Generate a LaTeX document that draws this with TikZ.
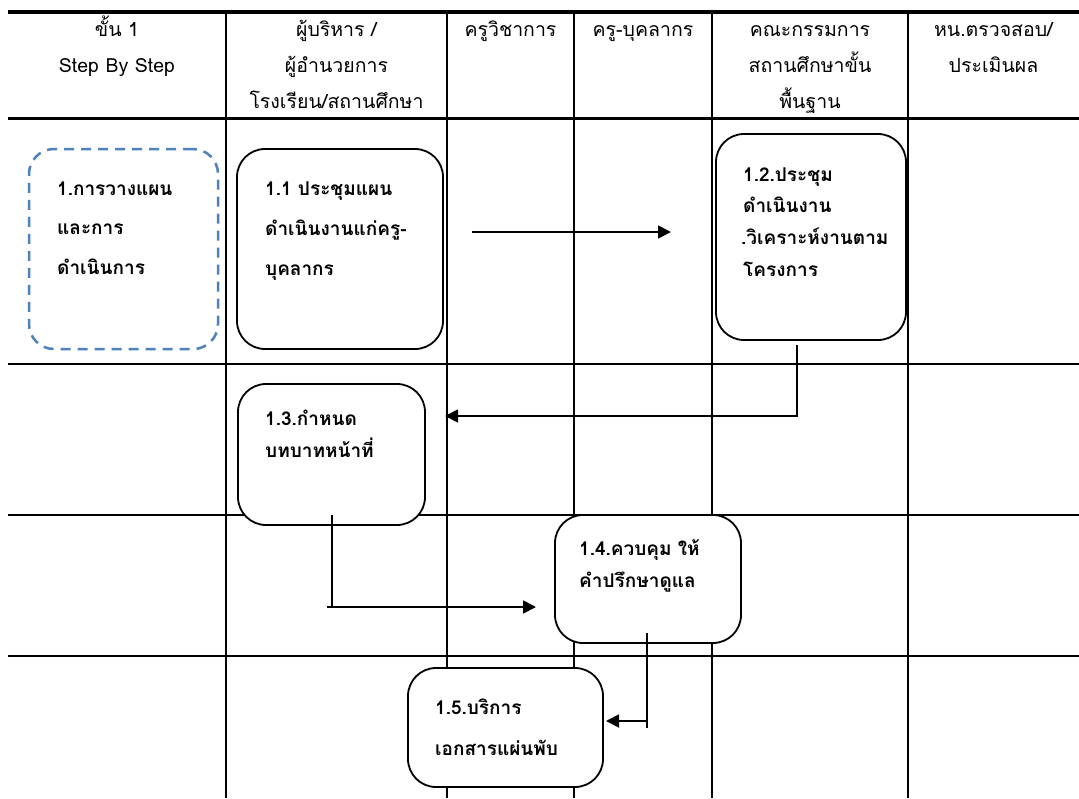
\documentclass[tikz,border=0pt]{standalone}
\usepackage{fontspec}
\setmainfont[Script=Thai]{Loma}
\usetikzlibrary{arrows.meta}
\definecolor{dashblue}{RGB}{79,129,189}
\begin{document}
\begin{tikzpicture}[x=1pt,y=-1pt,
  gridline/.style={line width=2.5pt, black},
  topline/.style={line width=4pt, black},
  midline/.style={line width=3pt, black},
  hdrtext/.style={font=\fontsize{19.5pt}{22pt}\selectfont, anchor=base, inner sep=0pt},
  boxtext/.style={font=\fontsize{19pt}{22pt}\selectfont\bfseries, anchor=base west, inner sep=0pt},
  stepbox/.style={draw, line width=1.8pt, rounded corners=28pt, inner sep=0pt, fill=white},
  dashbox/.style={draw=dashblue, line width=2.5pt, rounded corners=25pt, dash pattern=on 10pt off 7pt, inner sep=0pt},
  conn/.style={line width=1.8pt},
  arr/.style={line width=1.8pt, -{Triangle[length=13pt,width=13pt]}}
]
\useasboundingbox (0,0) rectangle (1079,798);
\fill[white] (0,0) rectangle (1079,798);

% grid
\draw[gridline] (8,364) -- (1079,364);
\draw[gridline] (8,515) -- (1079,515);
\draw[gridline] (8,656) -- (1079,656);
\foreach \xx in {226,447,574,712,908} {\draw[gridline] (\xx,12) -- (\xx,798);}
\draw[midline] (8,118) -- (1079,118);
\draw[topline] (8,12) -- (1079,12);

% headers
\node[hdrtext] (h1a) at (117,36) {ขั้น 1};
\node[hdrtext] (h1b) at (117,72) {Step By Step};
\node[hdrtext] (h2a) at (336.5,36) {ผู้บริหาร /};
\node[hdrtext] (h2b) at (336.5,72) {ผู้อำนวยการ};
\node[hdrtext] (h2c) at (336.5,108) {โรงเรียน/สถานศึกษา};
\node[hdrtext] (h3a) at (510.5,36) {ครูวิชาการ};
\node[hdrtext] (h4a) at (643,36) {ครู-บุคลากร};
\node[hdrtext] (h5a) at (810,36) {คณะกรรมการ};
\node[hdrtext] (h5b) at (810,72) {สถานศึกษาขั้น};
\node[hdrtext] (h5c) at (810,108) {พื้นฐาน};
\node[hdrtext] (h6a) at (993.5,36) {หน.ตรวจสอบ/};
\node[hdrtext] (h6b) at (993.5,72) {ประเมินผล};

% boxes
\node[dashbox, minimum width=189pt, minimum height=200pt] (n1) at (123.5,249) {};
\node[stepbox, minimum width=206pt, minimum height=200pt] (n11) at (340,249) {};
\node[stepbox, minimum width=190pt, minimum height=206pt] (n12) at (811,237) {};
\node[stepbox, minimum width=187pt, minimum height=141pt] (n13) at (331.5,454.5) {};
\node[stepbox, minimum width=186pt, minimum height=128pt] (n14) at (648,579) {};
\node[stepbox, minimum width=195pt, minimum height=119pt] (n15) at (505.5,727.5) {};

% box texts
\node[boxtext] (t1a) at (57,195) {1.การวางแผน};
\node[boxtext] (t1b) at (57,234) {และการ};
\node[boxtext] (t1c) at (57,274) {ดำเนินการ};
\node[boxtext] (t11a) at (265,195) {1.1 ประชุมแผน};
\node[boxtext] (t11b) at (265,235) {ดำเนินงานแก่ครู-};
\node[boxtext] (t11c) at (265,275) {บุคลากร};
\node[boxtext] (t12a) at (743,181) {1.2.ประชุม};
\node[boxtext] (t12b) at (743,212) {ดำเนินงาน};
\node[boxtext] (t12c) at (741,244) {.วิเคราะห์งานตาม};
\node[boxtext] (t12d) at (743,276) {โครงการ};
\node[boxtext] (t13a) at (265,425) {1.3.กำหนด};
\node[boxtext] (t13b) at (265,457) {บทบาทหน้าที่};
\node[boxtext] (t14a) at (579,555) {1.4.ควบคุม ให้};
\node[boxtext] (t14b) at (579,587) {คำปรึกษาดูแล};
\node[boxtext] (t15a) at (435,714) {1.5.บริการ};
\node[boxtext] (t15b) at (435,755) {เอกสารแผ่นพับ};

% connector coordinates
\coordinate (a1) at (472,232);
\coordinate (a2) at (671,232);
\coordinate (b1) at (797,345);
\coordinate (b2) at (797,416);
\coordinate (b3) at (445,416);
\coordinate (c1) at (332,515);
\coordinate (c2) at (332,607);
\coordinate (c3) at (327,607);
\coordinate (c4) at (536,607);
\coordinate (d1) at (647,633);
\coordinate (d2) at (647,728);
\coordinate (d3) at (647,721);
\coordinate (d4) at (606,721);

\draw[arr] (a1) -- (a2);
\draw[arr] (b1) -- (b2) -- (b3);
\draw[conn] (c1) -- (c2);
\draw[arr] (c3) -- (c4);
\draw[conn] (d1) -- (d2);
\draw[arr] (d3) -- (d4);
\end{tikzpicture}
\end{document}
